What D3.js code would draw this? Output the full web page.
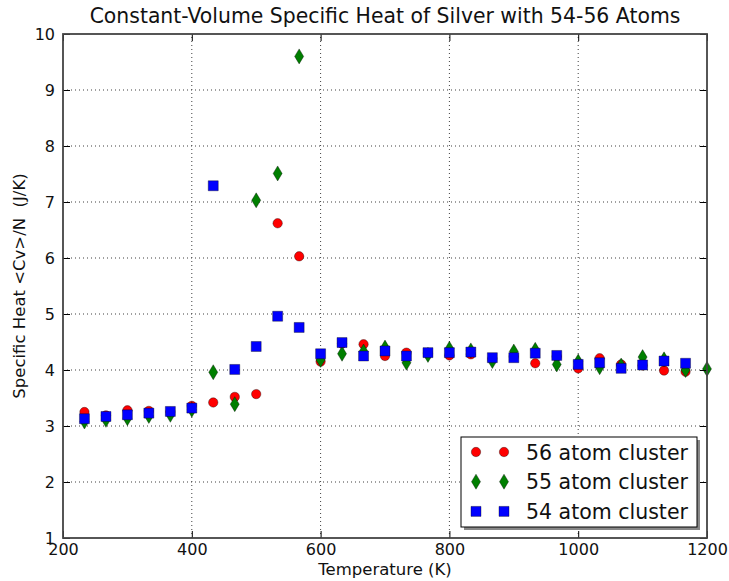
<!DOCTYPE html>
<html>
<head>
<meta charset="utf-8">
<script src="https://cdn.jsdelivr.net/npm/d3@7"></script>
<style>
  body { margin: 0; background: #fff; }
  svg { font-family: "DejaVu Sans", sans-serif; display: block; }
</style>
</head>
<body>
<svg id="chart" width="729" height="581"></svg>
<script>
// temperatures (K)
const temps = [233.3, 266.7, 300, 333.3, 366.7, 400, 433.3, 466.7, 500, 533.3,
  566.7, 600, 633.3, 666.7, 700, 733.3, 766.7, 800, 833.3, 866.7,
  900, 933.3, 966.7, 1000, 1033.3, 1066.7, 1100, 1133.3, 1166.7, 1200];

const cv56 = [3.25, 3.19, 3.28, 3.27, 3.25, 3.36, 3.42, 3.52, 3.57, 6.62,
  6.03, 4.15, 4.47, 4.46, 4.25, 4.31, 4.30, 4.26, 4.28, 4.20,
  4.24, 4.12, 4.24, 4.03, 4.21, 4.10, 4.08, 3.99, 3.97];

const cv55 = [3.08, 3.11, 3.14, 3.18, 3.20, 3.29, 3.96, 3.39, 7.03, 7.51,
  9.60, 4.18, 4.29, 4.33, 4.40, 4.13, 4.27, 4.38, 4.35, 4.16,
  4.33, 4.36, 4.10, 4.15, 4.05, 4.08, 4.23, 4.19, 4.00, 4.02];

const cv54 = [3.13, 3.17, 3.20, 3.23, 3.26, 3.32, 7.29, 4.01, 4.42, 4.96,
  4.76, 4.29, 4.49, 4.25, 4.34, 4.25, 4.31, 4.31, 4.32, 4.22,
  4.22, 4.30, 4.26, 4.10, 4.13, 4.03, 4.09, 4.16, 4.12];

const xTicks = [200, 400, 600, 800, 1000, 1200];
const yTicks = [1, 2, 3, 4, 5, 6, 7, 8, 9, 10];

const series = [
  { name: "56 atom cluster", values: cv56, color: "#ff0000", shape: "circle" },
  { name: "55 atom cluster", values: cv55, color: "#007f00", shape: "diamond" },
  { name: "54 atom cluster", values: cv54, color: "#0000ff", shape: "square" }
];

const margin = { top: 34, right: 22, bottom: 43, left: 63 };
const width = 729, height = 581;

const svg = d3.select("#chart");
svg.append("rect").attr("width", width).attr("height", height).attr("fill", "#fff");

const x = d3.scaleLinear().domain([200, 1200]).range([margin.left, width - margin.right]);
const y = d3.scaleLinear().domain([1, 10]).range([height - margin.bottom, margin.top]);

// grid
const grid = svg.append("g").attr("stroke", "#000").attr("stroke-width", 1)
  .attr("stroke-dasharray", "1,3").attr("opacity", 0.75);
grid.selectAll(".gx").data(xTicks.slice(1, -1)).enter().append("line")
  .attr("x1", d => x(d)).attr("x2", d => x(d))
  .attr("y1", y(1)).attr("y2", y(10));
grid.selectAll(".gy").data(yTicks.slice(1, -1)).enter().append("line")
  .attr("y1", d => y(d)).attr("y2", d => y(d))
  .attr("x1", x(200)).attr("x2", x(1200));

// marker paths
const markerPath = (shape) => {
  if (shape === "circle") return d3.symbol(d3.symbolCircle, Math.PI * 4.7 * 4.7)();
  if (shape === "square") return "M-5,-5L5,-5L5,5L-5,5Z";
  return "M0,-7.5L4.5,0L0,7.5L-4.5,0Z";
};

const plot = svg.append("g");
series.forEach(s => {
  plot.append("g").selectAll("path")
    .data(s.values.map((v, i) => ({ t: temps[i], v })))
    .enter().append("path")
    .attr("d", markerPath(s.shape))
    .attr("transform", d => `translate(${x(d.t)},${y(d.v)})`)
    .attr("fill", s.color)
    .attr("stroke", "#000")
    .attr("stroke-opacity", 0.6)
    .attr("stroke-width", 0.6);
});

// axes with inward ticks on all sides
const axisStyle = g => {
  g.select(".domain").remove();
  g.selectAll(".tick line").attr("stroke", "#000").attr("stroke-width", 1);
  g.selectAll(".tick text").attr("font-size", "16px").attr("fill", "#111")
    .attr("font-family", "DejaVu Sans");
};

svg.append("g").attr("transform", `translate(0,${y(1)})`)
  .call(d3.axisBottom(x).tickValues(xTicks).tickSizeInner(-7).tickPadding(5.5).tickFormat(d3.format("d")))
  .call(axisStyle);
svg.append("g").attr("transform", `translate(0,${y(10)})`)
  .call(d3.axisTop(x).tickValues(xTicks).tickSizeInner(-7).tickFormat(""))
  .call(axisStyle);
svg.append("g").attr("transform", `translate(${x(200)},0)`)
  .call(d3.axisLeft(y).tickValues(yTicks).tickSizeInner(-7).tickPadding(8).tickFormat(d3.format("d")))
  .call(axisStyle);
svg.append("g").attr("transform", `translate(${x(1200)},0)`)
  .call(d3.axisRight(y).tickValues(yTicks).tickSizeInner(-7).tickFormat(""))
  .call(axisStyle);

// frame
svg.append("rect")
  .attr("x", x(200)).attr("y", y(10))
  .attr("width", x(1200) - x(200)).attr("height", y(1) - y(10))
  .attr("fill", "none").attr("stroke", "#444").attr("stroke-width", 1.8);

// title and labels
svg.append("text").attr("x", (x(200) + x(1200)) / 2).attr("y", 23)
  .attr("text-anchor", "middle").attr("font-size", "20.4px").attr("fill", "#111")
  .text("Constant-Volume Specific Heat of Silver with 54-56 Atoms");
svg.append("text").attr("x", (x(200) + x(1200)) / 2).attr("y", 575)
  .attr("text-anchor", "middle").attr("font-size", "16.5px").attr("fill", "#111")
  .text("Temperature (K)");
svg.append("text")
  .attr("transform", `translate(25,${(y(1) + y(10)) / 2}) rotate(-90)`)
  .attr("text-anchor", "middle").attr("font-size", "16.5px").attr("fill", "#111")
  .attr("xml:space", "preserve")
  .text("Specific Heat <Cv>/N  (J/K)");

// legend
const lg = svg.append("g").attr("transform", "translate(461,437)");
lg.append("rect").attr("x", 3).attr("y", 3).attr("width", 236).attr("height", 90).attr("fill", "#888");
lg.append("rect").attr("width", 236).attr("height", 90).attr("fill", "#fff")
  .attr("stroke", "#000").attr("stroke-width", 1);
series.forEach((s, i) => {
  const row = lg.append("g").attr("transform", `translate(0,${15 + i * 29.7})`);
  [15, 43].forEach(mx => {
    row.append("path").attr("d", markerPath(s.shape))
      .attr("transform", `translate(${mx},0)`)
      .attr("fill", s.color).attr("stroke", "#000")
      .attr("stroke-opacity", 0.6).attr("stroke-width", 0.6);
  });
  row.append("text").attr("x", 65).attr("y", 7.5)
    .attr("font-size", "20.5px").attr("fill", "#111").text(s.name);
});
</script>
</body>
</html>
